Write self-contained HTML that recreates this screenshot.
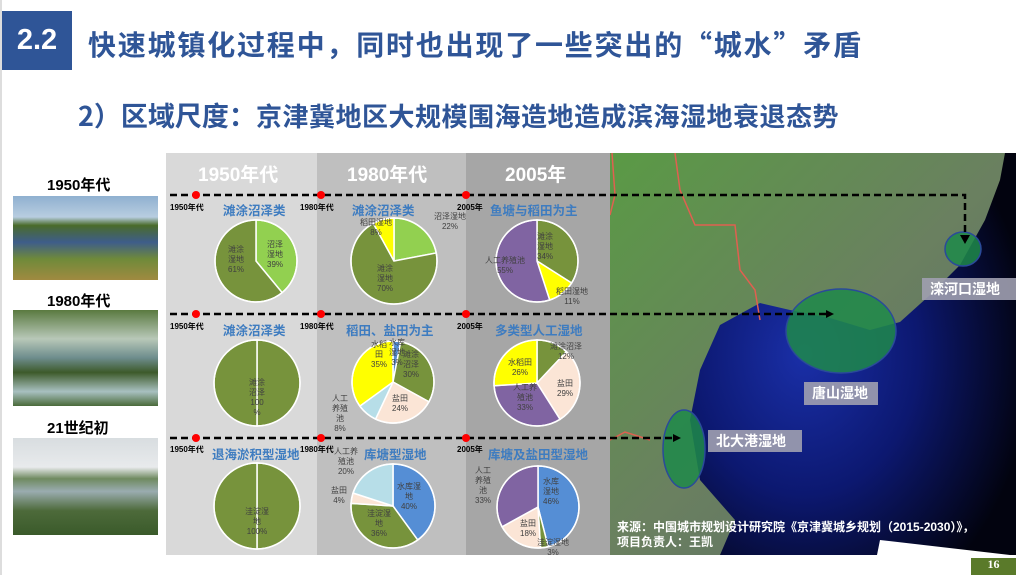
<!DOCTYPE html>
<html><head><meta charset="utf-8">
<style>
body{margin:0;width:1026px;height:575px;overflow:hidden;background:#fff;position:relative;font-family:"Liberation Sans","Noto Sans CJK SC",sans-serif;}
.a{position:absolute;white-space:nowrap;}
.lbl{position:absolute;font-size:8px;color:#404040;text-align:center;line-height:10px;white-space:nowrap;transform:translate(-50%,-50%);}
.ttl{position:absolute;font-size:12.5px;font-weight:bold;color:#3e7cc0;white-space:nowrap;}
.yr{position:absolute;font-size:8px;font-weight:bold;color:#000;}
</style></head><body>
<div class="a" style="left:0;top:0;width:2px;height:575px;background:#ddd"></div>
<div class="a" style="left:2px;top:11px;width:70px;height:59px;background:#2F5597;color:#fff;font-size:29px;font-weight:bold;line-height:59px;text-align:center">2.2</div>
<div class="a" style="left:88px;top:24px;font-family:'Noto Sans CJK SC',sans-serif;font-size:28px;letter-spacing:1.8px;font-weight:bold;color:#2F5597;line-height:40px">快速城镇化过程中，同时也出现了一些突出的“城水”矛盾</div>
<div class="a" style="left:78px;top:96px;font-family:'Noto Sans CJK SC',sans-serif;font-weight:bold;color:#2F5597;line-height:38px"><span style="font-size:27px">2）区域尺度：</span><span style="font-size:26px;letter-spacing:0.5px">京津冀地区大规模围海造地造成滨海湿地衰退态势</span></div>

<div class="a" style="left:47px;top:174px;font-size:15px;font-weight:bold">1950年代</div>
<div class="a" style="left:13px;top:196px;width:145px;height:84px;background:linear-gradient(#8fb0d0 0%,#b8cde0 25%,#4a6b2a 35%,#3e5d8a 55%,#6f8a3a 75%,#a08a40 100%)"></div>
<div class="a" style="left:47px;top:290px;font-size:15px;font-weight:bold">1980年代</div>
<div class="a" style="left:13px;top:310px;width:145px;height:96px;background:linear-gradient(#5a7a40 0%,#b8c8b8 30%,#6d8c8c 50%,#3d5a2a 65%,#a8c0c0 85%,#4a6a3a 100%)"></div>
<div class="a" style="left:47px;top:417px;font-size:15px;font-weight:bold">21世纪初</div>
<div class="a" style="left:13px;top:438px;width:145px;height:97px;background:linear-gradient(#d8dde0 0%,#e8eaec 30%,#6f8a60 42%,#9aacb0 55%,#4d6a3a 75%,#3a5a2a 100%)"></div>

<div class="a" style="left:166px;top:153px;width:151px;height:402px;background:#d9d9d9"></div>
<div class="a" style="left:317px;top:153px;width:149px;height:402px;background:#bfbfbf"></div>
<div class="a" style="left:466px;top:153px;width:144px;height:402px;background:#a6a6a6"></div>
<div class="a" style="left:198px;top:160px;font-size:19px;font-weight:bold;color:#fff">1950年代</div>
<div class="a" style="left:347px;top:160px;font-size:19px;font-weight:bold;color:#fff">1980年代</div>
<div class="a" style="left:505px;top:160px;font-size:19px;font-weight:bold;color:#fff">2005年</div>

<svg class="a" style="left:610px;top:153px" width="406" height="402" viewBox="610 153 406 402">
<defs><radialGradient id="sea" cx="0.35" cy="0.5" r="0.7"><stop offset="0" stop-color="#1a2fa8"/><stop offset="0.5" stop-color="#0c1870"/><stop offset="1" stop-color="#02030f"/></radialGradient>
<linearGradient id="land" x1="0" y1="0" x2="1" y2="1"><stop offset="0" stop-color="#5a9a45"/><stop offset="0.5" stop-color="#6a8060"/><stop offset="1" stop-color="#5a6a68"/></linearGradient></defs>
<rect x="610" y="153" width="406" height="402" fill="url(#land)"/>
<polygon points="1005,153 1016,153 1016,555 720,555 735,520 700,480 690,420 700,370 720,325 760,303 790,310 830,318 870,330 900,322 930,295 960,265 985,220 1000,180" fill="url(#sea)"/>
<polyline points="612,153 615,195 610,215" fill="none" stroke="#e06050" stroke-width="1.5"/>
<polyline points="675,153 680,190 695,225 735,225 740,270 755,290 760,320" fill="none" stroke="#e06050" stroke-width="1.5"/>
<polyline points="610,440 625,432 650,440" fill="none" stroke="#e06050" stroke-width="1.5"/>
<ellipse cx="963" cy="249" rx="18" ry="17" fill="#1e8a4a" fill-opacity="0.85" stroke="#2a4a9a" stroke-width="1.5"/>
<ellipse cx="841" cy="331" rx="55" ry="42" fill="#1e8a4a" fill-opacity="0.85" stroke="#2a4a9a" stroke-width="1.5"/>
<ellipse cx="684" cy="449" rx="21" ry="39" fill="#1e8a4a" fill-opacity="0.85" stroke="#2a4a9a" stroke-width="1.5"/>
<rect x="922" y="278" width="94" height="22" fill="#a0a0b0" fill-opacity="0.9"/>
<rect x="804" y="382" width="74" height="23" fill="#a0a0b0" fill-opacity="0.9"/>
<rect x="708" y="430" width="94" height="22" fill="#a0a0b0" fill-opacity="0.9"/>
<polygon points="877,555 880,540 1010,555" fill="#fff"/>
</svg>
<div class="a" style="left:930px;top:279px;font-size:14px;font-weight:bold;color:#fff">滦河口湿地</div>
<div class="a" style="left:812px;top:383px;font-size:14px;font-weight:bold;color:#fff">唐山湿地</div>
<div class="a" style="left:716px;top:431px;font-size:14px;font-weight:bold;color:#fff">北大港湿地</div>
<div class="a" style="left:617px;top:520px;font-size:12px;font-weight:bold;color:#fff;line-height:15px">来源：中国城市规划设计研究院《京津冀城乡规划（2015-2030）》，<br>项目负责人：王凯</div>
<div class="a" style="left:971px;top:558px;width:45px;height:17px;background:#5a7a2a;color:#fff;font-size:12px;font-weight:bold;font-family:'Liberation Serif',serif;text-align:center;line-height:12px">16</div>

<svg class="a" style="left:0;top:0" width="1026" height="575">
<g stroke="#000" stroke-width="2.5" stroke-dasharray="7,4" fill="none">
<path d="M170,195 H965 V238"/>
<path d="M170,314 H828"/>
<path d="M170,438 H676"/>
</g>
<polygon points="960,235 970,235 965,244" fill="#000"/>
<polygon points="826,310 834,314 826,318" fill="#000"/>
<polygon points="673,434 681,438 673,442" fill="#000"/>
<g fill="#f00">
<circle cx="196" cy="195" r="4"/><circle cx="321" cy="195" r="4"/><circle cx="466" cy="195" r="4"/>
<circle cx="196" cy="314" r="4"/><circle cx="321" cy="314" r="4"/><circle cx="466" cy="314" r="4"/>
<circle cx="196" cy="438" r="4"/><circle cx="321" cy="438" r="4"/><circle cx="466" cy="438" r="4"/>
</g>
<g id="pies"></g>
</svg>

<div class="yr" style="left:170px;top:202px">1950年代</div><div class="yr" style="left:300px;top:202px">1980年代</div><div class="yr" style="left:457px;top:202px">2005年</div>
<div class="yr" style="left:170px;top:321px">1950年代</div><div class="yr" style="left:300px;top:321px">1980年代</div><div class="yr" style="left:457px;top:321px">2005年</div>
<div class="yr" style="left:170px;top:444px">1950年代</div><div class="yr" style="left:300px;top:444px">1980年代</div><div class="yr" style="left:457px;top:444px">2005年</div>

<div class="ttl" style="left:223px;top:200px">滩涂沼泽类</div>
<div class="ttl" style="left:352px;top:200px">滩涂沼泽类</div>
<div class="ttl" style="left:490px;top:200px">鱼塘与稻田为主</div>
<div class="ttl" style="left:223px;top:320px">滩涂沼泽类</div>
<div class="ttl" style="left:346px;top:320px">稻田、盐田为主</div>
<div class="ttl" style="left:495px;top:320px">多类型人工湿地</div>
<div class="ttl" style="left:212px;top:444px">退海淤积型湿地</div>
<div class="ttl" style="left:364px;top:444px">库塘型湿地</div>
<div class="ttl" style="left:488px;top:444px">库塘及盐田型湿地</div>

<div class="lbl" style="left:275px;top:255px">沼泽<br>湿地<br>39%</div>
<div class="lbl" style="left:236px;top:260px">滩涂<br>湿地<br>61%</div>
<div class="lbl" style="left:376px;top:228px">稻田湿地<br>8%</div>
<div class="lbl" style="left:450px;top:222px">沼泽湿地<br>22%</div>
<div class="lbl" style="left:385px;top:279px">滩涂<br>湿地<br>70%</div>
<div class="lbl" style="left:545px;top:247px">滩涂<br>湿地<br>34%</div>
<div class="lbl" style="left:505px;top:266px">人工养殖池<br>55%</div>
<div class="lbl" style="left:572px;top:297px">稻田湿地<br>11%</div>
<div class="lbl" style="left:257px;top:398px">滩涂<br>沼泽<br>100<br>%</div>
<div class="lbl" style="left:379px;top:355px">水稻<br>田<br>35%</div>
<div class="lbl" style="left:397px;top:353px">水库<br>湿地<br>3%</div>
<div class="lbl" style="left:411px;top:365px">滩涂<br>沼泽<br>30%</div>
<div class="lbl" style="left:400px;top:404px">盐田<br>24%</div>
<div class="lbl" style="left:340px;top:414px">人工<br>养殖<br>池<br>8%</div>
<div class="lbl" style="left:566px;top:352px">滩涂沼泽<br>12%</div>
<div class="lbl" style="left:520px;top:368px">水稻田<br>26%</div>
<div class="lbl" style="left:565px;top:389px">盐田<br>29%</div>
<div class="lbl" style="left:525px;top:398px">人工养<br>殖池<br>33%</div>
<div class="lbl" style="left:257px;top:522px">洼淀湿<br>地<br>100%</div>
<div class="lbl" style="left:346px;top:462px">人工养<br>殖池<br>20%</div>
<div class="lbl" style="left:339px;top:496px">盐田<br>4%</div>
<div class="lbl" style="left:409px;top:497px">水库湿<br>地<br>40%</div>
<div class="lbl" style="left:379px;top:524px">洼淀湿<br>地<br>36%</div>
<div class="lbl" style="left:483px;top:486px">人工<br>养殖<br>池<br>33%</div>
<div class="lbl" style="left:551px;top:492px">水库<br>湿地<br>46%</div>
<div class="lbl" style="left:528px;top:529px">盐田<br>18%</div>
<div class="lbl" style="left:553px;top:548px">洼淀湿地<br>3%</div>

<script>
var O='#77933C',LG='#92D050',Y='#FFFF00',P='#8064A2',PE='#FBE5D6',LB='#B7DEE8',B='#558ED5';
var pies=[
[256,261,41,[[39,LG],[61,O]]],
[394,261,43,[[22,LG],[70,O],[8,Y]]],
[537,261,41,[[34,O],[11,Y],[55,P]]],
[257,383,43,[[50,O],[50,O]]],
[393,382,41,[[3,B],[30,O],[24,PE],[8,LB],[35,Y]]],
[537,383,43,[[12,O],[29,PE],[33,P],[26,Y]]],
[257,506,43,[[50,O],[50,O]]],
[393,506,42,[[40,B],[36,O],[4,PE],[20,LB]]],
[538,507,41,[[46,B],[3,O],[18,PE],[33,P]]]];
var s='';
pies.forEach(function(p){var cx=p[0],cy=p[1],r=p[2],a=0;
p[3].forEach(function(sl){var a0=a/100*2*Math.PI,a1=(a+sl[0])/100*2*Math.PI;a+=sl[0];
var x0=cx+r*Math.sin(a0),y0=cy-r*Math.cos(a0),x1=cx+r*Math.sin(a1),y1=cy-r*Math.cos(a1);
s+='<path d="M'+cx+','+cy+' L'+x0+','+y0+' A'+r+','+r+' 0 '+(sl[0]>50?1:0)+' 1 '+x1+','+y1+' Z" fill="'+sl[1]+'" stroke="#fff" stroke-width="1.5"/>';});
s+='<circle cx="'+cx+'" cy="'+cy+'" r="'+r+'" fill="none" stroke="#fff" stroke-width="1.5"/>';});
document.getElementById('pies').innerHTML=s;
</script>
</body></html>
